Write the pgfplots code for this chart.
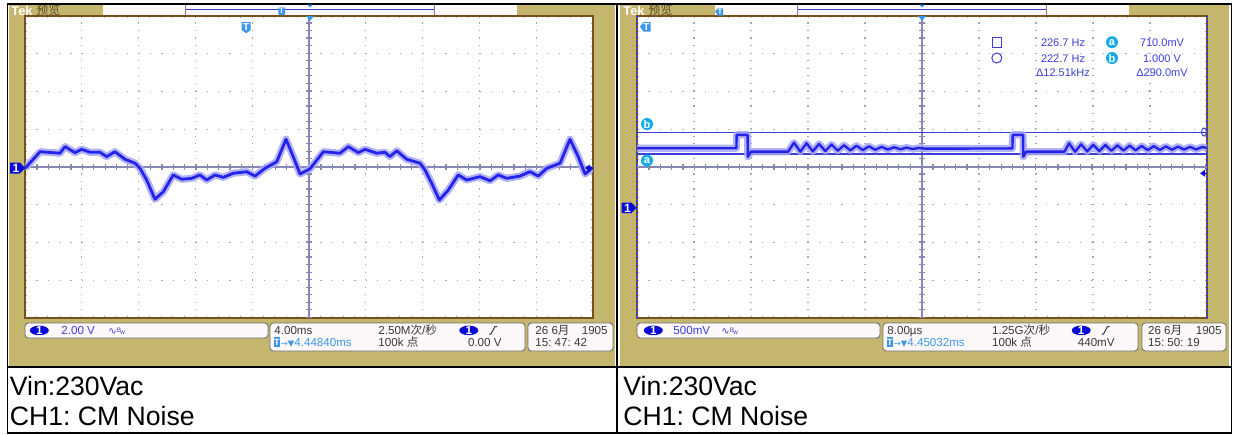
\documentclass[border=0pt]{standalone}
\usepackage{pgfplots}
\pgfplotsset{compat=1.18}
\usepackage{pgfplotstable}
\usepackage{fontspec}
\setmainfont{Liberation Sans}
\newfontfamily\dejavu{DejaVu Sans}
\newfontfamily\cjk{Noto Sans CJK SC}
\frenchspacing

\definecolor{tan}{RGB}{197,182,110}
\definecolor{frame}{RGB}{120,80,30}
\definecolor{grat}{RGB}{165,165,200}
\definecolor{cross}{RGB}{135,135,180}
\definecolor{trace}{RGB}{35,35,235}
\definecolor{halo}{RGB}{165,165,248}
\definecolor{chblue}{RGB}{10,10,215}
\definecolor{txtblue}{RGB}{60,60,215}
\definecolor{ltblue}{RGB}{60,150,235}
\definecolor{curcyan}{RGB}{20,170,235}
\definecolor{boxfill}{RGB}{253,249,251}
\definecolor{boxline}{RGB}{110,110,110}
\definecolor{txtdark}{RGB}{55,55,55}
\definecolor{headdark}{RGB}{85,75,35}

% CH1, 4 ms/div, 2 V/div (t in ms, v in V)
\pgfplotstableread{
t v
-20.00 -0.07
-18.94 0.81
-17.54 0.73
-17.18 1.08
-16.48 0.76
-16.01 0.94
-15.42 0.78
-14.72 0.78
-14.25 0.55
-13.66 0.81
-12.96 0.41
-12.25 0.20
-11.90 -0.07
-11.43 -0.69
-10.85 -1.71
-10.26 -1.31
-9.56 -0.42
-8.96 -0.65
-8.26 -0.60
-7.68 -0.42
-7.20 -0.69
-6.62 -0.42
-6.04 -0.55
-5.33 -0.33
-4.39 -0.25
-3.80 -0.48
-3.10 -0.07
-2.27 0.28
-1.62 1.47
-1.11 0.55
-0.63 -0.37
0.07 -0.10
1.01 0.81
2.18 0.73
2.77 1.08
3.47 0.76
3.94 0.94
4.77 0.73
5.35 0.78
5.70 0.55
6.18 0.86
6.88 0.41
7.82 0.20
8.17 -0.16
8.64 -0.86
9.18 -1.75
9.81 -1.22
10.51 -0.42
11.11 -0.69
12.04 -0.51
12.75 -0.73
13.33 -0.42
13.92 -0.60
14.86 -0.48
15.56 -0.25
16.15 -0.48
16.74 -0.07
17.68 0.20
18.38 1.47
18.96 0.55
19.44 -0.37
19.91 -0.07
}\cmslow

% CH1, 8 us/div, 500 mV/div (t in us, v in V)
\pgfplotstableread{
t v
-40.00 0.787
-26.05 0.787
-26.01 0.965
-24.48 0.965
-24.44 0.675
-24.00 0.742
-18.80 0.742
-17.96 0.861
-17.08 0.742
-16.21 0.853
-15.33 0.746
-14.45 0.844
-13.57 0.751
-12.70 0.836
-11.82 0.755
-10.94 0.828
-10.07 0.759
-9.19 0.820
-8.31 0.763
-7.44 0.813
-6.56 0.767
-5.68 0.806
-4.80 0.771
-3.93 0.800
-3.05 0.774
-2.17 0.796
-1.29 0.777
-0.42 0.792
0.50 0.782
12.69 0.785
12.73 0.965
14.18 0.965
14.22 0.675
14.60 0.742
20.00 0.742
20.63 0.853
21.48 0.742
22.33 0.840
23.18 0.746
24.03 0.834
24.88 0.750
25.73 0.830
26.58 0.754
27.43 0.826
28.28 0.757
29.13 0.822
29.98 0.760
30.83 0.818
31.68 0.763
32.53 0.815
33.38 0.766
34.23 0.812
35.08 0.768
35.93 0.809
36.78 0.770
37.63 0.806
38.48 0.772
39.33 0.804
40.00 0.790
}\cmfast

\pgfplotsset{
  scopescreen/.style={
    scale only axis, height=151pt, anchor=south west,
    axis background/.style={fill=white},
    axis line style={draw=frame, line width=0.7pt},
    tick align=inside, major tick length=1.2pt, minor tick length=1.2pt,
    every tick/.style={grat, line width=0.5pt},
    xticklabels=\empty, yticklabels=\empty,
    minor x tick num=4, minor y tick num=4,
    xmajorgrids, ymajorgrids,
    major x grid style={grat, line width=0.6pt, dash pattern=on 0.6pt off 3.175pt},
    major y grid style={grat, line width=0.6pt, dash pattern=on 0.6pt off 5.08pt},
    clip mode=individual,
  },
  halotrace/.style={halo, line width=3.6pt, line join=round, opacity=0.85},
  coretrace/.style={trace, line width=1.4pt, line join=round},
}

\newcommand\crosshair{%
  \draw[cross, line width=0.7pt] (rel axis cs:0,0.5) -- (rel axis cs:1,0.5);
  \draw[cross, line width=0.7pt] (rel axis cs:0.5,0) -- (rel axis cs:0.5,1);
  \draw[cross, line width=2.6pt, dash pattern=on 0.6pt off 5.08pt] (rel axis cs:0,0.5) -- (rel axis cs:1,0.5);
  \draw[cross, line width=2.6pt, dash pattern=on 0.6pt off 3.175pt] (rel axis cs:0.5,0) -- (rel axis cs:0.5,1);
}

\newcommand\stat{\fontsize{5.8}{6.5}\selectfont}
\newcommand\bw{{\dejavu\fontsize{5}{5}\selectfont ∿}\raisebox{1pt}{\fontsize{3.2}{3.5}\selectfont B}\kern-0.3pt{\fontsize{3.2}{3.5}\selectfont w}}

\begin{document}
\begin{tikzpicture}
% ---------- frames, header strips and status boxes ----------
\begin{scope}[x=0.5pt,y=-0.5pt]
  \fill[white] (0,0) rectangle (1235,434);
  \fill[tan] (9,5) rectangle (615,366);
  \fill[tan] (620,5) rectangle (1229,366);
  % header record bars
  \foreach \o in {0,612}{
    \fill[boxfill] (103+\o,5) rectangle (517+\o,15);
    \draw[txtblue, line width=0.6pt] (186+\o,9.5) -- (434+\o,9.5);
    \draw[gray, line width=0.6pt] (185.5+\o,5) -- (185.5+\o,15) (434.5+\o,5) -- (434.5+\o,15);
    \node[anchor=base west, inner sep=0pt, text=white, font=\bfseries\fontsize{6.4}{7}\selectfont] at (11+\o,15) {Tek};
    \node[anchor=base west, inner sep=0pt, text=headdark, font=\cjk\fontsize{6}{7}\selectfont] at (36+\o,14.5) {预览};
  }
  % status boxes
  \begin{scope}[rounded corners=1.6pt, fill=boxfill, draw=boxline, line width=0.45pt]
    \filldraw (25,323) rectangle (268,338);
    \filldraw (270,323) rectangle (525,351);
    \filldraw (528,323) rectangle (613,351);
    \filldraw (637,323) rectangle (880,338);
    \filldraw (883,323) rectangle (1138,351);
    \filldraw (1142,323) rectangle (1226,351);
    % cursor readout
    \filldraw[fill=white, draw=boxline!80!black] (977,34) rectangle (1206,79);
  \end{scope}
\end{scope}

% ---------- 4 ms/div screen ----------
\begin{axis}[scopescreen, at={(12.5pt,-159pt)}, width=284pt,
  xmin=-20, xmax=20, ymin=-8, ymax=8,
  xtick={-20,-16,...,20}, ytick={-8,-6,...,8}]
  \crosshair
  \addplot[halotrace] table {\cmslow};
  \addplot[coretrace] table {\cmslow};
\end{axis}

% ---------- 8 us/div screen ----------
\begin{axis}[scopescreen, at={(318.5pt,-159pt)}, width=285pt,
  xmin=-40, xmax=40, ymin=-1.461, ymax=2.539,
  xtick={-40,-32,...,40},
  ytick={-1.461,-0.961,-0.461,0.039,0.539,1.039,1.539,2.039,2.539}]
  \crosshair
  % amplitude cursors a = 710 mV, b = 1.000 V; time cursors at the edges
  \draw[txtblue, line width=0.6pt] (axis cs:-40,1.0) -- (axis cs:40,1.0);
  \draw[txtblue, line width=0.6pt] (axis cs:-40,0.71) -- (axis cs:40,0.71);
  \draw[txtblue, line width=0.8pt, dash pattern=on 1pt off 1pt] (rel axis cs:0,0) -- (rel axis cs:0,1);
  \draw[txtblue, line width=0.8pt, dash pattern=on 1pt off 1pt] (rel axis cs:1,0) -- (rel axis cs:1,1);
  \addplot[halotrace] table {\cmfast};
  \addplot[coretrace, line width=1.2pt] table {\cmfast};
\end{axis}

% ---------- markers, readouts and captions ----------
\begin{scope}[x=0.5pt,y=-0.5pt, every node/.style={inner sep=0pt}]
  % table rules
  \draw[black, line width=0.9pt] (7.5,4) rectangle (1231.5,433);
  \draw[black, line width=1pt] (7.5,367) -- (1231.5,367);
  \draw[black, line width=1pt] (617,4) -- (617,433);

  % header markers
  \fill[ltblue, rounded corners=0.6pt] (278.3,7) rectangle (285,15);
  \node[text=white, font=\bfseries\fontsize{4}{4}\selectfont] at (281.6,11.2) {T};
  \fill[ltblue] (307,4.5) -- (313,4.5) -- (310,7.5) -- cycle;
  \fill[ltblue] (306,16) -- (314,16) -- (310,21) -- cycle;
  \fill[ltblue] (715,11.5) -- (718,8) -- (723,8) -- (723,15.5) -- (718,15.5) -- cycle;
  \node[text=white, font=\bfseries\fontsize{4}{4}\selectfont] at (720,11.8) {T};
  \fill[ltblue] (919,4.5) -- (925,4.5) -- (922,7.5) -- cycle;
  \fill[ltblue] (918,16) -- (926,16) -- (922,21) -- cycle;

  % trigger position marks on the screens
  \fill[ltblue] (241.7,22) -- (250.7,22) -- (250.7,30) -- (246.2,33.3) -- (241.7,30) -- cycle;
  \node[text=white, font=\bfseries\fontsize{5}{5}\selectfont] at (246.2,27) {T};
  \fill[ltblue] (640,26.7) -- (643.5,22) -- (650.5,22) -- (650.5,31.5) -- (643.5,31.5) -- cycle;
  \node[text=white, font=\bfseries\fontsize{5}{5}\selectfont] at (646.5,26.9) {T};

  % channel 1 ground marks
  \fill[chblue] (10,162.5) -- (20,162.5) -- (25,168) -- (20,173.5) -- (10,173.5) -- cycle;
  \node[text=white, font=\bfseries\fontsize{6}{6}\selectfont] at (16,168.2) {1};
  \fill[chblue] (621.5,202.5) -- (631.5,202.5) -- (636.5,207.7) -- (631.5,213) -- (621.5,213) -- cycle;
  \node[text=white, font=\bfseries\fontsize{6}{6}\selectfont] at (627.5,207.9) {1};

  % trigger level arrows
  \fill[chblue] (585,168) -- (590,164.5) -- (590,171.5) -- cycle;
  \draw[chblue, line width=0.6pt] (589,168) -- (593,168);
  \fill[chblue] (1200,173.3) -- (1205,169.8) -- (1205,176.8) -- cycle;
  \draw[chblue, line width=0.6pt] (1204,173.3) -- (1207,173.3);
  \draw[txtblue, line width=0.5pt] (1204,132) ellipse [x radius=2.5, y radius=4];

  % cursor tags
  \fill[curcyan] (647,124) circle [radius=6];
  \node[text=white, font=\bfseries\fontsize{5.5}{5.5}\selectfont] at (647,124.3) {b};
  \fill[curcyan] (647,160.5) circle [radius=6];
  \node[text=white, font=\bfseries\fontsize{5.5}{5.5}\selectfont] at (647,160.8) {a};

  % cursor readout
  \draw[txtblue, line width=0.5pt] (992,37.7) rectangle (1001.7,47.5);
  \draw[txtblue, line width=0.5pt] (996.8,58) circle [radius=5];
  \begin{scope}[every node/.style={inner sep=0pt, text=txtblue, font=\fontsize{5.5}{6}\selectfont}]
    \node[anchor=base] at (1063,46.7) {226.7 Hz};
    \node[anchor=base] at (1063,62.7) {222.7 Hz};
    \node[anchor=base] at (1063,76) {Δ12.51kHz};
    \node[anchor=base] at (1162,46.7) {710.0mV};
    \node[anchor=base] at (1162,62.7) {1.000 V};
    \node[anchor=base] at (1162,76) {Δ290.0mV};
  \end{scope}
  \fill[curcyan] (1112,42.2) circle [radius=6];
  \node[text=white, font=\bfseries\fontsize{5.5}{5.5}\selectfont] at (1112,42.5) {a};
  \fill[curcyan] (1112,58) circle [radius=6];
  \node[text=white, font=\bfseries\fontsize{5.5}{5.5}\selectfont] at (1112,58.3) {b};

  % status lines
  \begin{scope}[every node/.style={inner sep=0pt, font=\stat}]
    % slow sweep
    \fill[chblue] (39.3,330.4) ellipse [x radius=9.5, y radius=4.8];
    \node[text=white, font=\bfseries\stat] at (39.3,330.6) {1};
    \node[anchor=base west, text=txtblue] at (61,334) {2.00 V};
    \node[anchor=base west, text=txtblue] at (108,334) {\bw};
    \node[anchor=base west, text=txtdark] at (274,334) {4.00ms};
    \node[anchor=base west, text=txtdark] at (378,334) {2.50M{\cjk 次}/{\cjk 秒}};
    \fill[chblue] (468.8,330.4) ellipse [x radius=9.5, y radius=4.8];
    \node[text=white, font=\bfseries\stat] at (468.8,330.6) {1};
    \draw[txtdark, line width=0.5pt] (489,334) -- (491,334) -- (495,326.5) -- (497,326.5);
    \fill[ltblue] (273.5,337.2) rectangle (280,346.5);
    \node[text=white, font=\bfseries\fontsize{4.5}{4.5}\selectfont] at (276.8,341.9) {T};
    \node[anchor=base west, text=ltblue] at (280.5,346) {{\dejavu\fontsize{4.2}{4.5}\selectfont →▼}4.44840ms};
    \node[anchor=base west, text=txtdark] at (378,346) {100k {\cjk 点}};
    \node[anchor=base east, text=txtdark] at (502,346) {0.00 V};
    \node[anchor=base west, text=txtdark] at (535,334) {26 6{\cjk 月}};
    \node[anchor=base east, text=txtdark] at (608,334) {1905};
    \node[anchor=base west, text=txtdark] at (535,346) {15: 47: 42};
    % fast sweep
    \fill[chblue] (653.3,330.4) ellipse [x radius=9.5, y radius=4.8];
    \node[text=white, font=\bfseries\stat] at (653.3,330.6) {1};
    \node[anchor=base west, text=txtblue] at (673,334) {500mV};
    \node[anchor=base west, text=txtblue] at (721,334) {\bw};
    \node[anchor=base west, text=txtdark] at (887,334) {8.00µs};
    \node[anchor=base west, text=txtdark] at (991.7,334) {1.25G{\cjk 次}/{\cjk 秒}};
    \fill[chblue] (1081.2,330.4) ellipse [x radius=9.5, y radius=4.8];
    \node[text=white, font=\bfseries\stat] at (1081.2,330.6) {1};
    \draw[txtdark, line width=0.5pt] (1101.5,334) -- (1103.5,334) -- (1107.5,326.5) -- (1109.5,326.5);
    \fill[ltblue] (886.5,337.2) rectangle (893,346.5);
    \node[text=white, font=\bfseries\fontsize{4.5}{4.5}\selectfont] at (889.8,341.9) {T};
    \node[anchor=base west, text=ltblue] at (893.5,346) {{\dejavu\fontsize{4.2}{4.5}\selectfont →▼}4.45032ms};
    \node[anchor=base west, text=txtdark] at (991.7,346) {100k {\cjk 点}};
    \node[anchor=base east, text=txtdark] at (1115,346) {440mV};
    \node[anchor=base west, text=txtdark] at (1147.7,334) {26 6{\cjk 月}};
    \node[anchor=base east, text=txtdark] at (1222,334) {1905};
    \node[anchor=base west, text=txtdark] at (1147.7,346) {15: 50: 19};
  \end{scope}

  % captions
  \begin{scope}[every node/.style={inner sep=0pt, anchor=base west, font=\fontsize{13.3}{15}\selectfont}]
    \node at (9.5,395) {Vin:230Vac};
    \node at (9.5,425) {CH1: CM Noise};
    \node at (623,395) {Vin:230Vac};
    \node at (623,425) {CH1: CM Noise};
  \end{scope}
\end{scope}
\end{tikzpicture}
\end{document}
